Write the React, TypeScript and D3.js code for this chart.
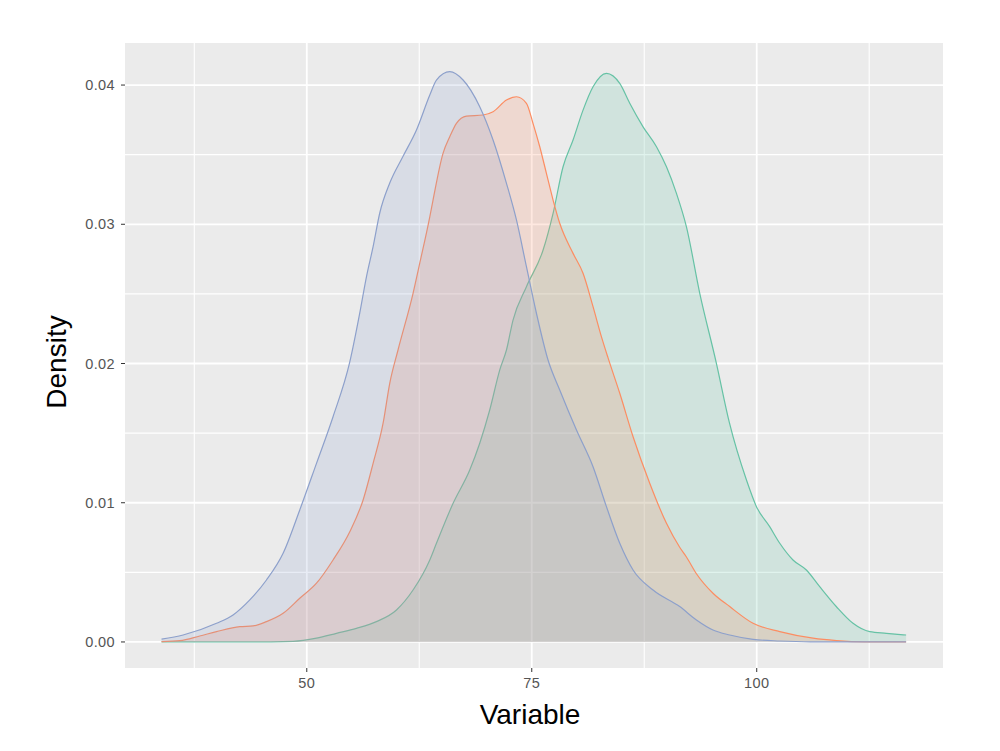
import React from "react";
import * as d3 from "d3";

// ---- Data ----
const xTicks = [50, 75, 100];
const xMinor = [37.5, 62.5, 87.5, 112.5];
const yTicks = [0, 0.01, 0.02, 0.03, 0.04];
const yMinor = [0.005, 0.015, 0.025, 0.035];
const yTickLabels = ["0.00", "0.01", "0.02", "0.03", "0.04"];

// green group (peak ~83)
const greenDensity: [number, number][] = [
  [33.86, 0], [40, 0], [46, 0.00001], [48.48, 0.00004], [51.08, 0.00027], [53.3, 0.00062],
  [55.52, 0.00098], [57.74, 0.00146], [59.97, 0.0023], [61.81, 0.00373], [63.67, 0.00589],
  [64.41, 0.00709], [66.26, 0.00996], [68.11, 0.01235], [69.22, 0.01427], [70.33, 0.01666],
  [71.44, 0.01953], [72.19, 0.02097], [72.92, 0.02312], [74.41, 0.02552], [76.26, 0.02815],
  [77.37, 0.03079], [78.48, 0.03413], [79.59, 0.03605], [80.7, 0.0382], [81.81, 0.03988],
  [83.3, 0.04084], [84.78, 0.04012], [85.89, 0.03869], [87.37, 0.037], [88.86, 0.03557],
  [89.97, 0.03413], [91.08, 0.03222], [92.19, 0.02982], [93.67, 0.02504], [95.5, 0.02007],
  [96.97, 0.01573], [98.86, 0.01163], [99.97, 0.00972], [101.44, 0.00828], [102.56, 0.00709],
  [104.03, 0.00589], [105.52, 0.00517], [107.0, 0.00397], [108.86, 0.00253], [110.7, 0.00134],
  [112.56, 0.00074], [114.41, 0.00062], [116.6, 0.0005],
];

// orange group (peak ~73)
const orangeDensity: [number, number][] = [
  [33.86, 0.00002], [35.89, 0.00009], [38.11, 0.00043], [39.97, 0.00074], [42.56, 0.0011],
  [44.03, 0.00115], [45.52, 0.00146], [47.37, 0.00206], [49.22, 0.00314], [51.08, 0.00422],
  [52.92, 0.00589], [54.78, 0.00792], [56.26, 0.0102], [57.37, 0.01283], [58.48, 0.01571],
  [59.22, 0.01858], [60.14, 0.02097], [61.81, 0.02504], [62.56, 0.02722], [63.67, 0.03054],
  [64.03, 0.03174], [65.14, 0.03509], [65.89, 0.03629], [66.63, 0.03725], [67.74, 0.03777],
  [69.59, 0.03785], [70.7, 0.03808], [72.19, 0.03892], [73.3, 0.03916], [74.41, 0.03869],
  [75.14, 0.03725], [75.89, 0.03557], [76.63, 0.03366], [77.37, 0.03174], [78.11, 0.03007],
  [79.59, 0.02791], [80.7, 0.02648], [81.81, 0.02408], [82.74, 0.02193], [83.48, 0.0204],
  [84.78, 0.01786], [86.26, 0.01474], [88.11, 0.0114], [89.97, 0.00852], [91.44, 0.0068],
  [92.19, 0.0061], [93.3, 0.0049], [95.14, 0.0035], [97.0, 0.00254], [99.59, 0.00134],
  [102.56, 0.00074], [106.26, 0.00027], [108.86, 0.0001], [112, 0.00001], [116.6, 0],
];

// blue group (peak ~66)
const blueDensity: [number, number][] = [
  [33.86, 0.0002], [36.26, 0.0005], [39.97, 0.00134], [41.81, 0.00194], [43.67, 0.00302],
  [45.52, 0.00445], [47.37, 0.00637], [49.22, 0.00948], [51.08, 0.01283], [52.92, 0.01618],
  [54.78, 0.02011], [55.89, 0.02363], [56.63, 0.02623], [57.37, 0.02839], [58.11, 0.03081],
  [59.22, 0.03296], [60.67, 0.03485], [62.19, 0.03677], [63.67, 0.03928], [64.41, 0.04036],
  [65.89, 0.04096], [67.37, 0.04036], [69.22, 0.03844], [70.7, 0.03605], [72.19, 0.03294],
  [73.3, 0.03031], [74.41, 0.02695], [75.52, 0.02361], [76.81, 0.02025], [78.11, 0.0181],
  [79.97, 0.01522], [81.81, 0.01259], [83.3, 0.00972], [84.78, 0.00709], [86.26, 0.00517],
  [88.48, 0.00373], [91.44, 0.00254], [93.3, 0.00158], [95.14, 0.00086], [97.0, 0.0005],
  [99.59, 0.00019], [102.56, 0.00007], [106, 0.00001], [116.6, 0],
];

const seriesColors = ["#66C2A5", "#FC8D62", "#8DA0CB"];
const series = [greenDensity, orangeDensity, blueDensity];

const xTitle = "Variable";
const yTitle = "Density";

export default function App() {
  const W = 1000, H = 751;
  const pL = 125, pR = 943, pT = 43, pB = 668;
  const x = d3.scaleLinear().domain([29.8, 120.7]).range([pL, pR]);
  const y = d3.scaleLinear().domain([-0.00187, 0.04302]).range([pB, pT]);

  const area = d3.area<[number, number]>()
    .x((d) => x(d[0]))
    .y0(y(0))
    .y1((d) => y(d[1]))
    .curve(d3.curveMonotoneX);
  const line = d3.line<[number, number]>()
    .x((d) => x(d[0]))
    .y((d) => y(d[1]))
    .curve(d3.curveMonotoneX);

  const font = "'Liberation Sans', Arial, sans-serif";

  return (
    <svg width={W} height={H} style={{ position: "absolute", left: 0, top: 0, background: "#fff" }}>
      <rect x={0} y={0} width={W} height={H} fill="#fff" />
      <rect x={pL} y={pT} width={pR - pL} height={pB - pT} fill="#EBEBEB" />
      {xMinor.map((v) => (
        <line key={"xm" + v} x1={x(v)} x2={x(v)} y1={pT} y2={pB} stroke="#fff" strokeWidth={1.1} />
      ))}
      {yMinor.map((v) => (
        <line key={"ym" + v} x1={pL} x2={pR} y1={y(v)} y2={y(v)} stroke="#fff" strokeWidth={1.1} />
      ))}
      {xTicks.map((v) => (
        <line key={"xM" + v} x1={x(v)} x2={x(v)} y1={pT} y2={pB} stroke="#fff" strokeWidth={1.8} />
      ))}
      {yTicks.map((v) => (
        <line key={"yM" + v} x1={pL} x2={pR} y1={y(v)} y2={y(v)} stroke="#fff" strokeWidth={1.8} />
      ))}

      {series.map((s, i) => (
        <g key={"s" + i}>
          <path d={area(s) || ""} fill={seriesColors[i]} fillOpacity={0.2} stroke="none" />
          <path d={line(s) || ""} fill="none" stroke={seriesColors[i]} strokeWidth={1.2} />
        </g>
      ))}

      {/* axes ticks */}
      {xTicks.map((v) => (
        <g key={"xt" + v}>
          <line x1={x(v)} x2={x(v)} y1={pB} y2={pB + 4} stroke="#333" strokeWidth={1} />
          <text x={x(v)} y={688} textAnchor="middle" fontFamily={font} fontSize={14.5}
            letterSpacing={0.4} fill="#555">{v}</text>
        </g>
      ))}
      {yTicks.map((v, i) => (
        <g key={"yt" + v}>
          <line x1={pL - 4} x2={pL} y1={y(v)} y2={y(v)} stroke="#333" strokeWidth={1} />
          <text x={115} y={y(v) + 5} textAnchor="end" fontFamily={font} fontSize={14.5}
            letterSpacing={0.4} fill="#555">{yTickLabels[i]}</text>
        </g>
      ))}

      <text x={530} y={724} textAnchor="middle" fontFamily={font} fontSize={28} fill="#000">{xTitle}</text>
      <text transform={`translate(66,${362}) rotate(-90)`} textAnchor="middle" fontFamily={font}
        fontSize={28} fill="#000">{yTitle}</text>
    </svg>
  );
}
